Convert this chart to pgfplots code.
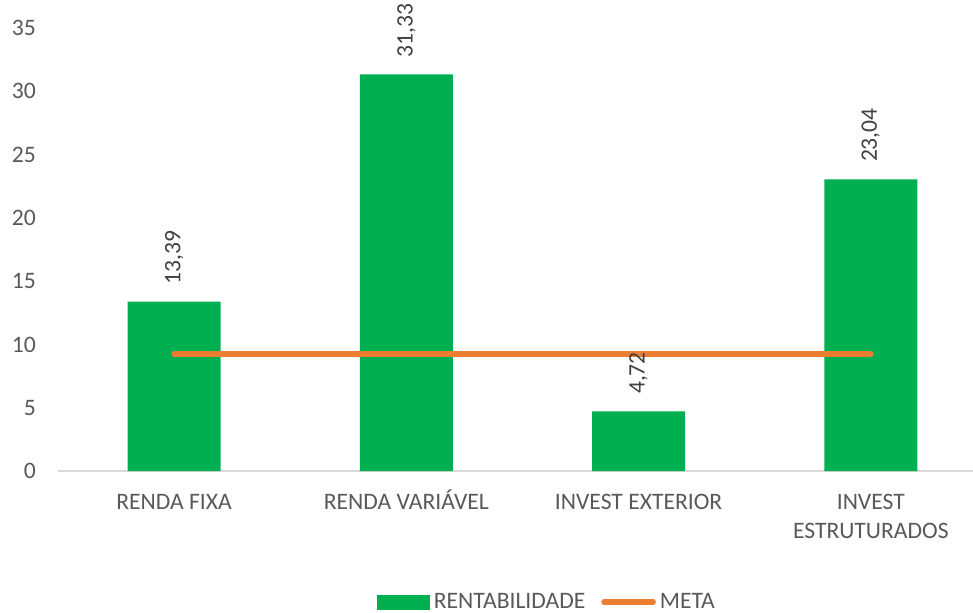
\documentclass[border=0pt]{standalone}
\usepackage{pgfplots}
\pgfplotsset{compat=1.18}
\usepackage{fontspec}
\setmainfont{Carlito}
\definecolor{barg}{HTML}{00B050}
\definecolor{metao}{HTML}{ED7D31}
\definecolor{txt}{HTML}{595959}
\definecolor{lbl}{HTML}{404040}
\definecolor{axl}{HTML}{D9D9D9}
\begin{document}
\begin{tikzpicture}
\path[use as bounding box] (0,0) rectangle (486.5pt,306pt);
\begin{axis}[
  at={(29pt,70.5pt)}, anchor=south west,
  scale only axis, width=457.5pt, height=221.5pt,
  xmin=-0.5, xmax=3.44, ymin=0, ymax=35,
  ytick={0,5,...,35},
  xtick={0,1,2,3},
  xticklabels={RENDA FIXA, RENDA VARIÁVEL, INVEST EXTERIOR, {\begin{tabular}[t]{@{}c@{}}INVEST\\ESTRUTURADOS\end{tabular}}},
  separate axis lines,
  axis x line*=bottom, axis y line*=left,
  y axis line style={draw=none},
  x axis line style={draw=axl, line width=0.8pt, -},
  major tick length=0pt,
  clip=false,
  font=\fontsize{11.8}{14.5}\selectfont,
  tick label style={text=txt},
  yticklabel style={xshift=-7.6pt},
  xticklabel style={anchor=base, yshift=-19.2pt},
  /pgf/number format/assume math mode=true,
  legend style={at={(0.5355,-0.2957)}, anchor=center, draw=none, fill=none,
    legend columns=2, text=txt, font=\fontsize{11.8}{14.5}\selectfont,
    /tikz/every even column/.append style={column sep=6pt}},
]
\addplot[ybar, bar width=0.4, fill=barg, draw=none, forget plot,
  nodes near coords,
  every node near coord/.append style={rotate=90, anchor=west, inner xsep=8.5pt, text=lbl,
     font=\fontsize{11.8}{14.5}\selectfont},
  /pgf/number format/.cd, fixed, fixed zerofill, precision=2, use comma,
  ] coordinates {(0,13.39) (1,31.33) (2,4.72) (3,23.04)};
\addplot[metao, line width=2.8pt, line cap=round, forget plot] coordinates {(0,9.24) (3,9.24)};
\addlegendimage{legend image code/.code={\fill[barg] (0pt,-3.5pt) rectangle (26pt,3.5pt);}}
\addlegendentry{RENTABILIDADE}
\addlegendimage{legend image code/.code={\draw[metao, line width=2.8pt, line cap=round] (1.5pt,0pt) -- (26pt,0pt);}}
\addlegendentry{META}
\end{axis}
\end{tikzpicture}
\end{document}
